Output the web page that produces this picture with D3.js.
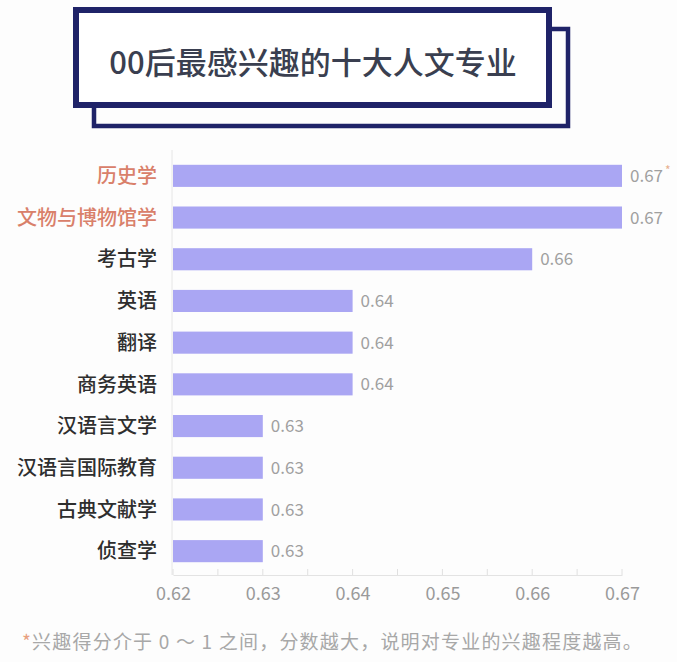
<!DOCTYPE html>
<html>
<head>
<meta charset="utf-8">
<script src="https://cdn.jsdelivr.net/npm/d3@7"></script>
<style>
  body { margin: 0; background: #fdfdfd; }
  svg { display: block; }
</style>
</head>
<body>
<div id="chart"></div>
<script>
var majors = ["历史学", "文物与博物馆学", "考古学", "英语", "翻译", "商务英语", "汉语言文学", "汉语言国际教育", "古典文献学", "侦查学"];
var scores = [0.67, 0.67, 0.66, 0.64, 0.64, 0.64, 0.63, 0.63, 0.63, 0.63];
var highlighted = ["历史学", "文物与博物馆学"];
var tickValues = [0.62, 0.63, 0.64, 0.65, 0.66, 0.67];
var minorTicks = [0.62, 0.625, 0.63, 0.635, 0.64, 0.645, 0.65, 0.655, 0.66, 0.665, 0.67];

var W = 677, H = 662;
var font = "'Noto Sans CJK SC', 'Noto Sans', sans-serif";

var svg = d3.select("#chart")
    .append("svg")
    .attr("width", W)
    .attr("height", H)
    .style("font-family", font);

svg.append("rect")
    .attr("width", W)
    .attr("height", H)
    .attr("fill", "#fdfdfd");

// title boxes
svg.append("rect")
    .attr("x", 94).attr("y", 29)
    .attr("width", 474).attr("height", 97)
    .attr("fill", "none")
    .attr("stroke", "#1f2368")
    .attr("stroke-width", 4.5);

svg.append("rect")
    .attr("x", 76).attr("y", 10)
    .attr("width", 473).attr("height", 95)
    .attr("fill", "#ffffff")
    .attr("stroke", "#1f2368")
    .attr("stroke-width", 6);

svg.append("text")
    .attr("x", 313)
    .attr("y", 74)
    .attr("text-anchor", "middle")
    .attr("font-size", 31)
    .attr("font-weight", 500)
    .attr("fill", "#3a3f50")
    .text("00后最感兴趣的十大人文专业");

var x = d3.scaleLinear()
    .domain([0.62, 0.67])
    .range([173, 622]);

var y = d3.scaleBand()
    .domain(majors)
    .range([155, 572])
    .paddingInner(0.47)
    .paddingOuter(0.235);

var axisY = 575;

// vertical axis line
svg.append("line")
    .attr("x1", 172).attr("x2", 172)
    .attr("y1", 150).attr("y2", axisY)
    .attr("stroke", "#e6e6e6")
    .attr("stroke-width", 1);

// bottom axis
var xAxis = svg.append("g")
    .attr("transform", "translate(0," + axisY + ")")
    .call(d3.axisBottom(x)
        .tickValues(tickValues)
        .tickSize(0)
        .tickPadding(12)
        .tickFormat(d3.format(".2f")));

xAxis.select(".domain").attr("stroke", "#e3e3e3");
xAxis.selectAll("text")
    .attr("font-size", 18)
    .attr("fill", "#9a9a9a")
    .style("font-family", font);

xAxis.selectAll(".minor")
    .data(minorTicks)
    .enter()
    .append("line")
    .attr("class", "minor")
    .attr("x1", function (d) { return x(d); })
    .attr("x2", function (d) { return x(d); })
    .attr("y1", -6)
    .attr("y2", 0)
    .attr("stroke", "#e0e0e0");

var rows = svg.selectAll(".row")
    .data(majors.map(function (m, i) { return [m, scores[i]]; }))
    .enter()
    .append("g")
    .attr("class", "row");

rows.append("rect")
    .attr("x", x(0.62))
    .attr("y", function (d) { return y(d[0]); })
    .attr("width", function (d) { return x(d[1]) - x(0.62); })
    .attr("height", y.bandwidth())
    .attr("fill", "#aaa6f3");

rows.append("text")
    .attr("x", 157)
    .attr("y", function (d) { return y(d[0]) + y.bandwidth() / 2; })
    .attr("dy", "0.36em")
    .attr("text-anchor", "end")
    .attr("font-size", 20)
    .attr("font-weight", 500)
    .attr("fill", function (d) {
        return highlighted.indexOf(d[0]) >= 0 ? "#d9806a" : "#2e2e2e";
    })
    .text(function (d) { return d[0]; });

rows.append("text")
    .attr("x", function (d) { return x(d[1]) + 8; })
    .attr("y", function (d) { return y(d[0]) + y.bandwidth() / 2; })
    .attr("dy", "0.36em")
    .attr("font-size", 17)
    .attr("fill", "#a0a0a0")
    .text(function (d) { return d[1].toFixed(2); });

// small asterisk after the first value
svg.append("text")
    .attr("x", x(scores[0]) + 43)
    .attr("y", y(majors[0]) + 10)
    .attr("font-size", 12)
    .attr("fill", "#e8b090")
    .text("*");

// footnote
var note = svg.append("text")
    .attr("x", 22)
    .attr("y", 649)
    .attr("font-size", 19)
    .attr("letter-spacing", 1.2)
    .attr("fill", "#a8a8a8");

note.append("tspan")
    .attr("fill", "#e8a080")
    .text("*");
note.append("tspan")
    .text("兴趣得分介于 0 ～ 1 之间，分数越大，说明对专业的兴趣程度越高。");
</script>
</body>
</html>
